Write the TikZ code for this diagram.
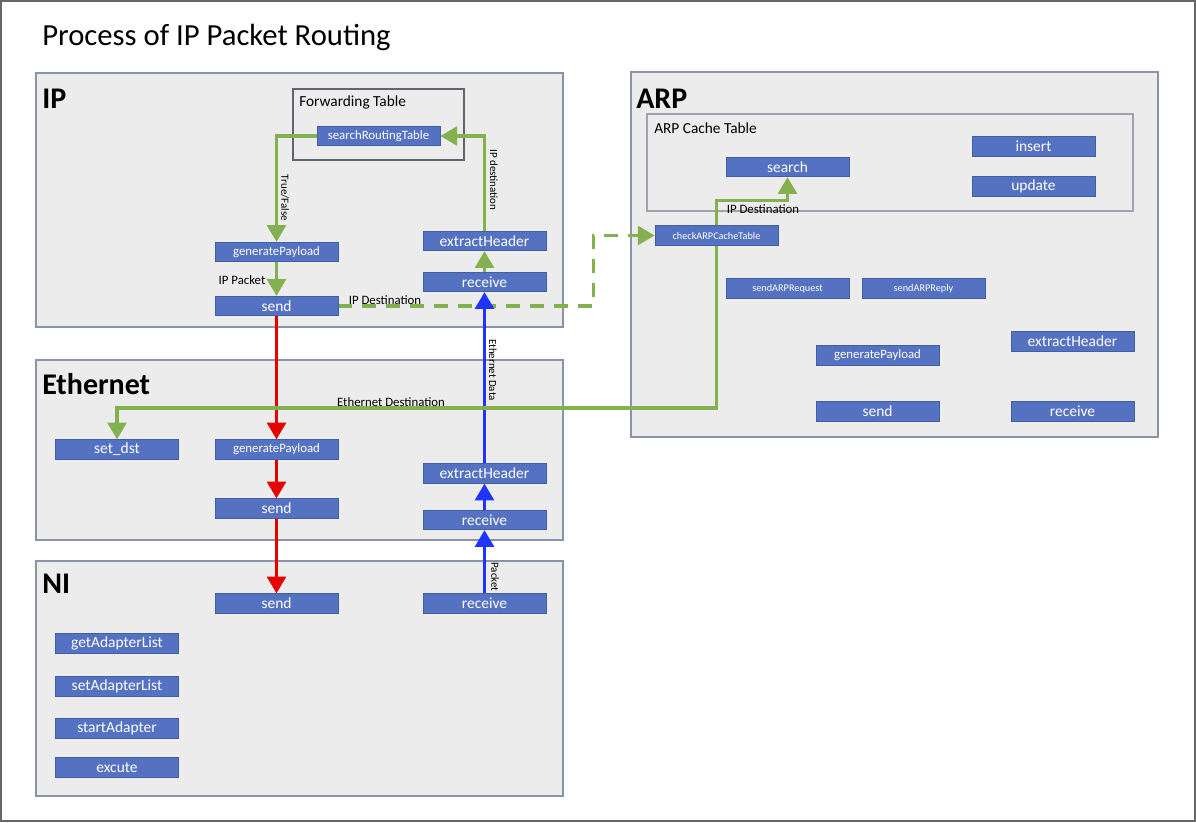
\documentclass[tikz,border=0pt]{standalone}
\usepackage{fontspec}
\setmainfont{Carlito}
\usetikzlibrary{arrows.meta}
\pgfdeclarelayer{bg}
\pgfdeclarelayer{lines}
\pgfsetlayers{bg,lines,main}
\definecolor{funcblue}{HTML}{5572C2}
\definecolor{funcedge}{HTML}{41609F}
\definecolor{layergray}{HTML}{ECECEC}
\definecolor{layeredge}{HTML}{8A94A6}
\definecolor{tableedge}{HTML}{5F6670}
\definecolor{cacheedge}{HTML}{9EA4AE}
\definecolor{arrowgreen}{HTML}{84B14F}
\definecolor{arrowred}{HTML}{E60000}
\definecolor{arrowblue}{HTML}{1F35FF}
\tikzset{
  func/.style={draw=funcedge, fill=funcblue, text=white, line width=0.6pt,
    minimum width=92.25pt, minimum height=14.6pt, inner sep=0pt,
    font=\fontsize{11.6}{12}\selectfont},
  funcmid/.style={func, font=\fontsize{9.6}{10}\selectfont},
  funcsmall/.style={func, font=\fontsize{7.7}{8}\selectfont},
  layerbox/.style={draw=layeredge, fill=layergray, line width=0.9pt},
  layername/.style={anchor=base west, inner sep=0pt, font=\bfseries\fontsize{22.5}{24}\selectfont},
  tablename/.style={anchor=west, inner sep=0pt, font=\fontsize{11.5}{12}\selectfont},
  flowlabel/.style={inner sep=0pt, font=\fontsize{9.6}{10}\selectfont},
  sidelabel/.style={inner sep=0pt, rotate=-90, font=\fontsize{8.2}{9}\selectfont},
  tip/.style={-{Triangle[width=14pt,length=12.5pt]}},
  gline/.style={tip, draw=arrowgreen, line width=2.5pt},
  gdash/.style={gline, dash pattern=on 10.5pt off 7.5pt},
  rline/.style={tip, draw=arrowred, line width=2.6pt},
  bline/.style={tip, draw=arrowblue, line width=2.6pt},
}
\begin{document}
\begin{tikzpicture}[x=0.75pt, y=-0.75pt]
  \useasboundingbox (0,0) rectangle (1196,822);
  \draw[draw=black!60, line width=0.8pt] (1,1) rectangle (1195,821);
  \node[anchor=base west, inner sep=0pt, font=\fontsize{23}{25}\selectfont] (title) at (42,45) {Process of IP Packet Routing};

  % layers
  \begin{pgfonlayer}{bg}
    \draw[layerbox] (36,73) rectangle (563,327);
    \draw[layerbox] (36,360) rectangle (563,540);
    \draw[layerbox] (36,561) rectangle (563,796);
    \draw[layerbox] (631,72) rectangle (1158,437);
    \draw[draw=tableedge, line width=0.8pt] (293,89) rectangle (464,160);
    \draw[draw=cacheedge, line width=1.1pt] (647,114) rectangle (1133,211);
  \end{pgfonlayer}
  \node[layername] (ipname) at (42,108) {IP};
  \node[layername] (ethname) at (42,394) {Ethernet};
  \node[layername] (niname) at (42,593) {NI};
  \node[layername] (arpname) at (636,108) {ARP};
  \node[tablename] (fwdname) at (299,102) {Forwarding Table};
  \node[tablename] (cachename) at (654,128) {ARP Cache Table};

  % IP
  \node[funcmid] (srt) at (378.5,136) {searchRoutingTable};
  \node[funcmid] (genIP) at (276.5,252) {generatePayload};
  \node[func] (sendIP) at (276.5,306) {send};
  \node[func] (extIP) at (484.5,241) {extractHeader};
  \node[func] (recvIP) at (484.5,282) {receive};

  % Ethernet
  \node[func] (setdst) at (117,449.5) {set\_dst};
  \node[funcmid] (genEth) at (276.5,449.5) {generatePayload};
  \node[func] (sendEth) at (276.5,508.5) {send};
  \node[func] (extEth) at (484.5,473.5) {extractHeader};
  \node[func] (recvEth) at (484.5,520) {receive};

  % NI
  \node[func] (sendNI) at (276.5,603.5) {send};
  \node[func] (recvNI) at (484.5,603.5) {receive};
  \node[func] (getAL) at (117,643.5) {getAdapterList};
  \node[func] (setAL) at (117,686.5) {setAdapterList};
  \node[func] (startA) at (117,728.5) {startAdapter};
  \node[func] (excute) at (117,767.5) {excute};

  % ARP
  \node[func] (search) at (787.5,167) {search};
  \node[func] (insert) at (1033.5,146.5) {insert};
  \node[func] (update) at (1033.5,186.5) {update};
  \node[funcsmall] (chk) at (716.5,235.5) {checkARPCacheTable};
  \node[funcsmall] (sendReq) at (787.5,288.5) {sendARPRequest};
  \node[funcsmall] (sendRep) at (923.5,288.5) {sendARPReply};
  \node[funcmid] (genARP) at (877.5,355.5) {generatePayload};
  \node[func] (extARP) at (1072.5,341.5) {extractHeader};
  \node[func] (sendARP) at (877.5,411.5) {send};
  \node[func] (recvARP) at (1072.5,411.5) {receive};

  % connectors
  \begin{pgfonlayer}{lines}
    \draw[gline] (srt.west) -| (genIP.north);
    \draw[gline] (genIP) -- (sendIP);
    \draw[gline] (recvIP) -- (extIP);
    \draw[gline] (extIP.north) |- (srt.east);
    \draw[gdash] (sendIP.east) -- ++(255,0) |- (chk.west);
    \draw[rline] (sendIP) -- (genEth);
    \draw[rline] (genEth) -- (sendEth);
    \draw[rline] (sendEth) -- (sendNI);
    \draw[bline] (recvNI) -- (recvEth);
    \draw[bline] (recvEth) -- (extEth);
    \draw[bline] (extEth) -- (recvIP);
    \draw[gline] (chk.center) -- ++(0,-35) -| (search.south);
    \draw[gline] (chk.center) -- ++(0,172.5) -| (setdst.north);
  \end{pgfonlayer}

  % labels
  \node[sidelabel] (tflabel) at (285,198) {True/False};
  \node[sidelabel] (ipdlabel) at (494,180) {IP destination};
  \node[sidelabel] (edlabel) at (493,370) {Ethernet Data};
  \node[sidelabel] (pktlabel) at (495,577) {Packet};
  \node[flowlabel] (pktip) at (242,280) {IP Packet};
  \node[flowlabel] (ipdst) at (385,300) {IP Destination};
  \node[flowlabel] (arpdst) at (763,209) {IP Destination};
  \node[flowlabel] (ethdst) at (391,402) {Ethernet Destination};
\end{tikzpicture}
\end{document}
